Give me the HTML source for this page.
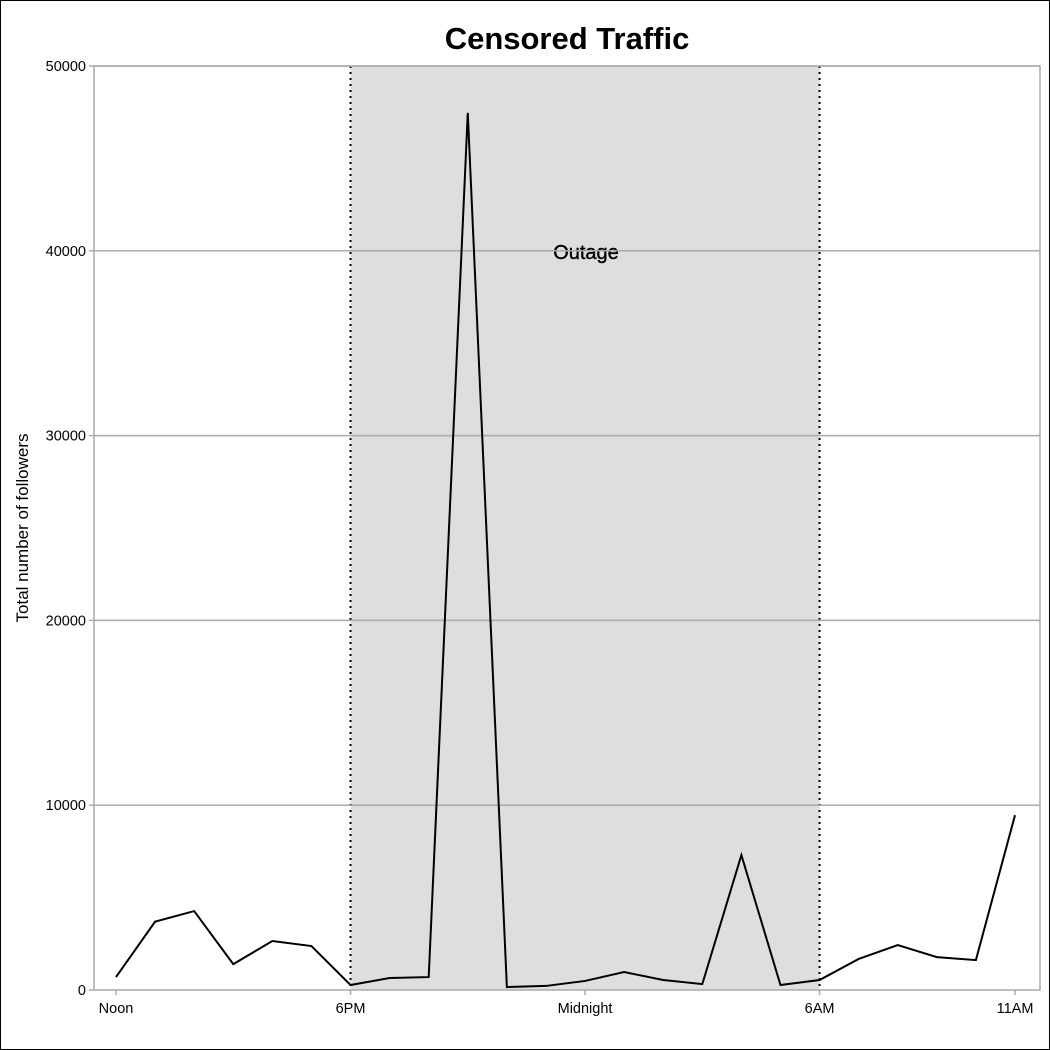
<!DOCTYPE html>
<html><head><meta charset="utf-8"><style>
html,body{margin:0;padding:0;background:#fff}
svg{display:block;font-family:"Liberation Sans",sans-serif}
</style></head><body>
<svg id="chart" width="1050" height="1050" viewBox="0 0 1050 1050">
<rect x="0.5" y="0.5" width="1049" height="1049" fill="#fff" stroke="#000"/>
<text x="567" y="49" text-anchor="middle" font-size="31" font-weight="bold">Censored Traffic</text>
<text transform="translate(28,528) rotate(-90)" text-anchor="middle" font-size="17">Total number of followers</text>
<g id="shade"></g><g id="grid"></g><g id="axes"></g><g id="series"></g>
</svg>
<script>
const hours = ["Noon","1PM","2PM","3PM","4PM","5PM","6PM","7PM","8PM","9PM","10PM","11PM","Midnight","1AM","2AM","3AM","4AM","5AM","6AM","7AM","8AM","9AM","10AM","11AM"];
const followers = [700,3700,4270,1400,2650,2380,270,650,700,47460,160,220,490,970,540,320,7300,270,540,1680,2430,1780,1620,9460];
const yTicks = [0,10000,20000,30000,40000,50000];
const xTickLabels = ["Noon","6PM","Midnight","6AM","11AM"];
const outageStart = 6, outageEnd = 18;

const NS="http://www.w3.org/2000/svg";
const L=94,R=1040,T=66,B=990;
const x=i=>116+i*(1015-116)/23;
const y=v=>B-(v/50000)*(B-T);
function mk(tag,attrs,parent){const e=document.createElementNS(NS,tag);for(const k in attrs)e.setAttribute(k,attrs[k]);document.getElementById(parent).appendChild(e);return e;}

let r=mk('rect',{x:x(outageStart),y:T,width:x(outageEnd)-x(outageStart),height:B-T,fill:'#dedede'},'shade');


[outageStart,outageEnd].forEach(h=>{const l=mk('line',{x1:x(h),x2:x(h),y1:T,y2:B,stroke:'#000','stroke-width':2,'stroke-dasharray':'2,4'},'shade');

});
let ot=mk('text',{x:586,y:259,'text-anchor':'middle','font-size':20,stroke:'#000','stroke-width':0.4},'shade');ot.textContent='Outage';



yTicks.forEach(v=>{
 if(v>0){const g=mk('line',{x1:L,x2:R,y1:y(v),y2:y(v),stroke:'#aaa','stroke-width':1.5},'grid');
 
 }
 mk('line',{x1:L-5,x2:L,y1:y(v),y2:y(v),stroke:'#aaa','stroke-width':1.5},'axes');
 const t=mk('text',{x:L-8,y:y(v)+5,'text-anchor':'end','font-size':14.5},'axes');t.textContent=v;
 
 
});
const fr=mk('path',{d:`M${L},${T}H${R}V${B}H${L}Z`,fill:'none',stroke:'#aaa','stroke-width':1.5},'axes');


xTickLabels.forEach(lb=>{const i=hours.indexOf(lb);
 mk('line',{x1:x(i),x2:x(i),y1:B,y2:B+5,stroke:'#aaa','stroke-width':1.5},'axes');
 const t=mk('text',{x:x(i),y:B+23,'text-anchor':'middle','font-size':14.5},'axes');t.textContent=lb;
 
 });
const p=mk('polyline',{points:followers.map((v,i)=>x(i)+','+y(v)).join(' '),fill:'none',stroke:'#000','stroke-width':2,'stroke-linejoin':'miter'},'series');


</script>
</body></html>
